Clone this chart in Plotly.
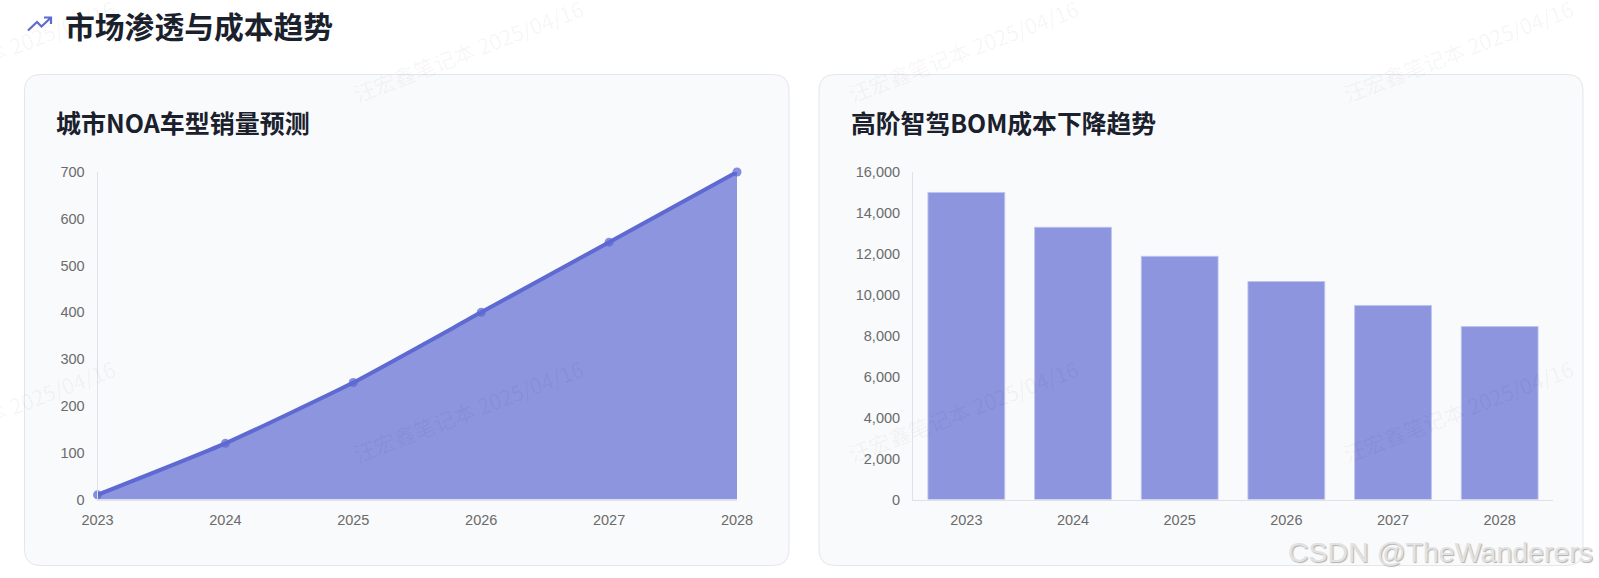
import plotly.graph_objects as go

W, H = 1599, 578

years = ["2023", "2024", "2025", "2026", "2027", "2028"]
noa_sales = [10, 120, 250, 400, 550, 700]
bom_cost = [15000, 13300, 11880, 10650, 9480, 8450]

page_title = "市场渗透与成本趋势"
left_title = "城市NOA车型销量预测"
right_title = "高阶智驾BOM成本下降趋势"
mark_text = "汪宏鑫笔记本 2025/04/16"
csdn_text = "CSDN @TheWanderers"

ACCENT = "#5e6ad2"
FILL = "rgba(94,106,210,0.7)"
INK = "#1a202c"
TICK = "#6b6b6b"
AXIS = "#dfe1e6"
CJK = "Noto Sans CJK SC"
LATIN = "Liberation Sans, Arial"


def px(x):
    return x / W


def py(y):
    return 1 - y / H


def card_path(x0, y0, x1, y1, r=16):
    pts = [
        f"M{px(x0 + r)},{py(y0)}", f"L{px(x1 - r)},{py(y0)}",
        f"Q{px(x1)},{py(y0)} {px(x1)},{py(y0 + r)}", f"L{px(x1)},{py(y1 - r)}",
        f"Q{px(x1)},{py(y1)} {px(x1 - r)},{py(y1)}", f"L{px(x0 + r)},{py(y1)}",
        f"Q{px(x0)},{py(y1)} {px(x0)},{py(y1 - r)}", f"L{px(x0)},{py(y0 + r)}",
        f"Q{px(x0)},{py(y0)} {px(x0 + r)},{py(y0)}", "Z",
    ]
    return " ".join(pts)


fig = go.Figure()

fig.add_trace(go.Scatter(
    x=years, y=noa_sales, xaxis="x", yaxis="y", mode="lines+markers",
    line=dict(color=ACCENT, width=4, shape="spline", smoothing=0.5),
    marker=dict(color="rgba(94,106,210,0.75)", size=9),
    fill="tozeroy", fillcolor=FILL, cliponaxis=False, showlegend=False,
))
fig.add_trace(go.Bar(
    x=years, y=bom_cost, xaxis="x2", yaxis="y2", width=0.72,
    marker=dict(color=FILL, line=dict(color="rgba(190,195,240,0.9)", width=1)),
    showlegend=False,
))
# empty trace that brings the full-page overlay axes (used by the watermarks) into being
fig.add_trace(go.Scatter(x=[], y=[], xaxis="x3", yaxis="y3", showlegend=False, hoverinfo="skip"))

tickfont = dict(family=LATIN, size=14.5, color=TICK)
axis_common = dict(
    showgrid=False, zeroline=False, showline=True, linecolor=AXIS, linewidth=1,
    ticks="outside", tickcolor="rgba(0,0,0,0)", tickfont=tickfont, fixedrange=True,
    automargin=False,
)

y_top, y_bot = 172, 499.5
ydom = [py(y_bot), py(y_top)]

fig.update_layout(
    width=W, height=H, autosize=False,
    margin=dict(l=0, r=0, t=0, b=0, pad=0, autoexpand=False),
    paper_bgcolor="#ffffff", plot_bgcolor="rgba(0,0,0,0)",
    bargap=0.28,
    xaxis=dict(axis_common, domain=[px(97.5), px(737)], type="category", range=[0, 5], ticklen=7, anchor="y"),
    yaxis=dict(axis_common, domain=ydom, range=[0, 700], dtick=100, ticklen=9, anchor="x"),
    xaxis2=dict(axis_common, domain=[px(913), px(1553)], type="category", range=[-0.5, 5.5], ticklen=7, anchor="y2"),
    yaxis2=dict(axis_common, domain=ydom, range=[0, 16000], dtick=2000, tickformat=",", ticklen=9, anchor="x2"),
    xaxis3=dict(visible=False, domain=[0, 1], range=[0, W], anchor="y3", fixedrange=True, automargin=False),
    yaxis3=dict(visible=False, domain=[0, 1], range=[H, 0], anchor="x3", fixedrange=True, automargin=False),
)

shapes = []
for x0, x1 in ((24.5, 789), (819, 1583)):
    shapes.append(dict(
        type="path", xref="paper", yref="paper", layer="below",
        path=card_path(x0, 74.5, x1, 565.5),
        fillcolor="#f9fafc", line=dict(color="#e4e6eb", width=1),
    ))
# trending-up icon in the page heading
shapes.append(dict(
    type="path", xref="paper", yref="paper",
    path=(f"M{px(28)},{py(30.5)} L{px(37)},{py(22)} L{px(41.5)},{py(26.5)} L{px(51)},{py(17.5)} "
          f"M{px(44)},{py(17.5)} L{px(51)},{py(17.5)} L{px(51)},{py(24)}"),
    line=dict(color=ACCENT, width=2.2),
))
fig.update_layout(shapes=shapes)

annotations = [
    dict(text=page_title, x=px(63), y=py(24.5), font=dict(family=CJK, size=29.8, color=INK, weight=700)),
    dict(text=left_title, x=px(53.5), y=py(122), font=dict(family=CJK, size=25, color=INK, weight=700)),
    dict(text=right_title, x=px(848.5), y=py(122), font=dict(family=CJK, size=24.8, color=INK, weight=700)),
]
for a in annotations:
    a.update(xref="paper", yref="paper", xanchor="left", yanchor="middle", showarrow=False)

# head of an invisible arrow stays on the page; the text sits at its tail
for hx, cx, cy in ((5, -27, 50), (468, 468, 50), (963, 963, 50), (1458, 1458, 50),
                   (5, -27, 410), (468, 468, 410), (963, 963, 410), (1458, 1458, 410)):
    annotations.append(dict(
        text=mark_text, x=hx, y=cy, xref="x3", yref="y3", showarrow=True,
        ax=cx - hx, ay=0, arrowcolor="rgba(0,0,0,0)", arrowwidth=0.1, standoff=0,
        textangle=-21, font=dict(family=CJK, size=21.3, color="rgba(0,0,0,0.05)"),
    ))

annotations.append(dict(
    text=csdn_text, x=px(1595), y=py(552), xref="paper", yref="paper", showarrow=False,
    xanchor="right", yanchor="middle",
    font=dict(family=LATIN, size=28.5, color="#e2e2e2", shadow="1px 1px 1px #b0b0b0"),
))
fig.update_layout(annotations=annotations)

fig.write_html(
    "out.html",
    config=dict(displayModeBar=False),
    post_script="document.body.style.margin='0';document.body.style.overflow='hidden';",
)
